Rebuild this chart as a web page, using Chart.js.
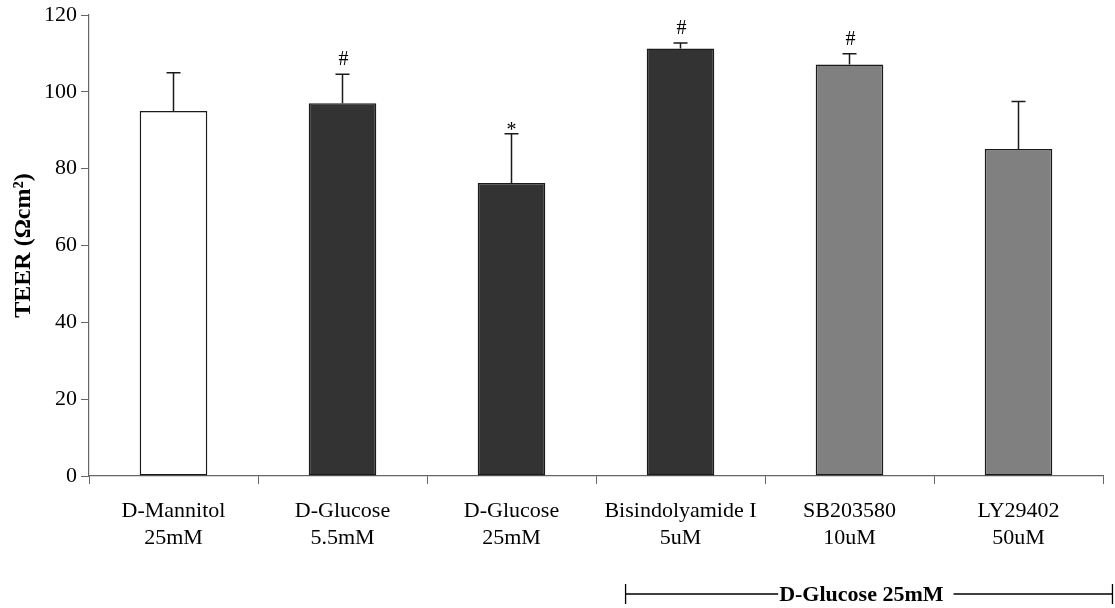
<!DOCTYPE html>
<html><head><meta charset="utf-8">
<script src="https://cdn.jsdelivr.net/npm/chart.js@4/dist/chart.umd.min.js"></script>
<style>html,body{margin:0;padding:0;background:#fff}#wrap{width:1115px;height:608px}</style>
</head><body><div id="wrap"><canvas id="c" width="1115" height="608"></canvas></div>
<script>
const categories = [["D-Mannitol","25mM"],["D-Glucose","5.5mM"],["D-Glucose","25mM"],["Bisindolyamide I","5uM"],["SB203580","10uM"],["LY29402","50uM"]];
const teerMeans = [95, 97, 76.3, 111.3, 107.1, 85.1];
const teerErrors = [10, 7.6, 12.8, 1.4, 2.8, 12.4];
const significance = ["", "#", "*", "#", "#", ""];
const barColors = ["#ffffff","#333333","#333333","#333333","#808080","#808080"];
const yMin = 0, yMax = 120, yStep = 20;
const yTitle = "TEER (\u03A9cm\u00B2)";
const groupLabel = "D-Glucose 25mM";
const groupFirst = 3, groupLast = 5;

const SERIF = '"Liberation Serif","Times New Roman",serif';
Chart.defaults.font.family = SERIF;
Chart.defaults.color = '#000';

const overlay = {
  id: 'overlay',
  afterDatasetsDraw(chart) {
    const ctx = chart.ctx;
    const meta = chart.getDatasetMeta(0);
    const y = chart.scales.y;
    ctx.save();
    ctx.strokeStyle = '#1a1a1a';
    ctx.lineWidth = 1.5;
    meta.data.forEach((bar, i) => {
      const top = y.getPixelForValue(teerMeans[i]);
      const cap = y.getPixelForValue(teerMeans[i] + teerErrors[i]);
      ctx.beginPath();
      ctx.moveTo(bar.x, top); ctx.lineTo(bar.x, cap);
      ctx.moveTo(bar.x - 7, cap); ctx.lineTo(bar.x + 7, cap);
      ctx.stroke();
      const s = significance[i];
      if (s) {
        ctx.fillStyle = '#000';
        ctx.font = '20px ' + SERIF;
        ctx.textAlign = 'center';
        ctx.textBaseline = 'alphabetic';
        ctx.fillText(s, bar.x + (s === '#' ? 1 : 0), s === '#' ? cap - 9 : cap + 2);
      }
    });
    ctx.restore();
  },
  afterDraw(chart) {
    const ctx = chart.ctx;
    const x = chart.scales.x;
    const cat = x.getPixelForValue(1) - x.getPixelForValue(0);
    const left = x.getPixelForValue(groupFirst) - 0.325 * cat;
    const right = x.getPixelForValue(groupLast) + 0.556 * cat;
    const tx = x.getPixelForValue(groupFirst + 1) + 0.07 * cat;
    const ly = 594;
    ctx.save();
    ctx.font = 'bold 22px ' + SERIF;
    const w = ctx.measureText(groupLabel).width;
    ctx.strokeStyle = '#000';
    ctx.lineWidth = 1.3;
    ctx.beginPath();
    ctx.moveTo(left, ly); ctx.lineTo(tx - w / 2 - 1, ly);
    ctx.moveTo(tx + w / 2 + 10, ly); ctx.lineTo(right, ly);
    ctx.moveTo(left, ly - 10); ctx.lineTo(left, ly + 10);
    ctx.moveTo(right, ly - 10); ctx.lineTo(right, ly + 10);
    ctx.stroke();
    ctx.fillStyle = '#000';
    ctx.textAlign = 'center';
    ctx.textBaseline = 'middle';
    ctx.fillText(groupLabel, tx, ly + 1);
    ctx.restore();
  }
};

new Chart(document.getElementById('c'), {
  type: 'bar',
  data: {
    labels: categories,
    datasets: [{
      data: teerMeans,
      backgroundColor: barColors,
      borderColor: '#1a1a1a',
      borderWidth: 1.5,
      borderSkipped: false,
      barPercentage: 0.4,
      categoryPercentage: 1
    }]
  },
  options: {
    responsive: false,
    animation: false,
    devicePixelRatio: 1,
    layout: { padding: { left: 0, right: 12, top: 11, bottom: 0 } },
    plugins: { legend: { display: false }, tooltip: { enabled: false } },
    scales: {
      x: {
        offset: true,
        grid: { offset: true, drawOnChartArea: false, drawTicks: true, tickLength: 8, color: '#666', lineWidth: 1 },
        border: { color: '#666', width: 1.2 },
        ticks: { font: { size: 22, lineHeight: 1.25 }, color: '#000', padding: 13, maxRotation: 0, autoSkip: false },
        afterFit(s) { s.height = 132; }
      },
      y: {
        min: yMin, max: yMax,
        grid: { drawOnChartArea: false, drawTicks: true, tickLength: 8, color: '#666', lineWidth: 1 },
        border: { color: '#666', width: 1.2 },
        ticks: { stepSize: yStep, font: { size: 22, lineHeight: 1 }, color: '#000', padding: 4 },
        title: { display: true, text: yTitle, font: { size: 24, weight: 'bold', lineHeight: 1.2 }, color: '#000', padding: { top: 9, bottom: 0 } },
        afterFit(s) { s.width = 89; }
      }
    }
  },
  plugins: [overlay]
});
</script>
</body></html>
